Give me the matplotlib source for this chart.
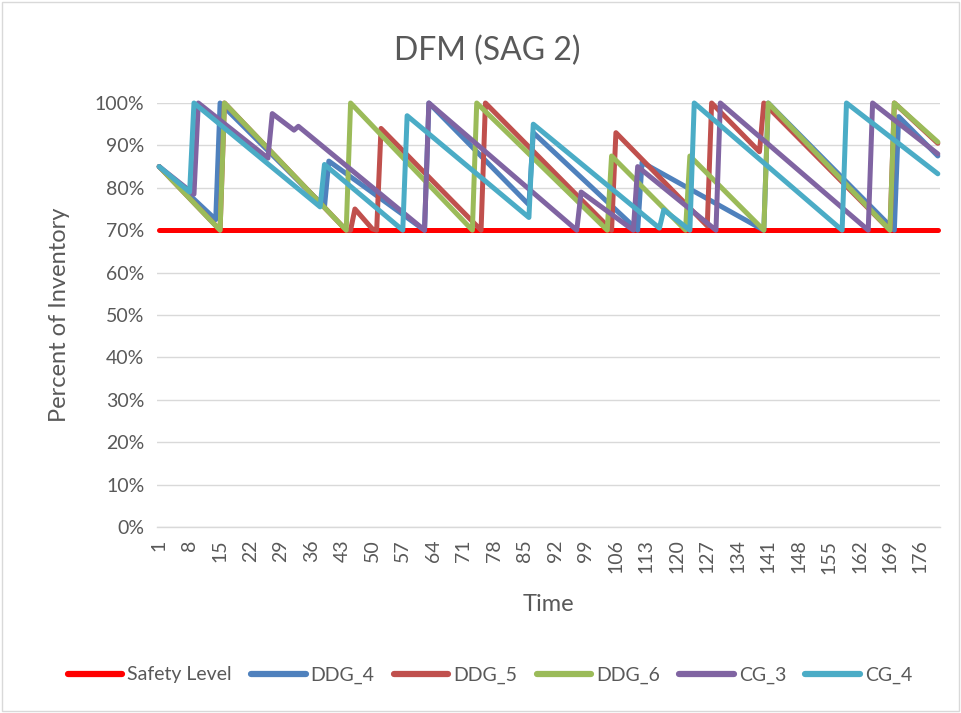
import matplotlib
matplotlib.use('Agg')
import matplotlib.pyplot as plt
from matplotlib.patches import Rectangle
from matplotlib.ticker import FixedLocator

# 데이터 (꺾은선의 꼭짓점: 시간, 재고 비율 %)
time_axis = list(range(1, 181))
tick_times = list(range(1, 177, 7))

safety_t = [1, 180]
safety_v = [70, 70]

ddg4_t = [1, 14, 15, 39, 40, 62, 63, 86, 87, 111, 112, 140, 141, 170, 171, 180]
ddg4_v = [85, 72.5, 100, 75.5, 86.3, 70, 100, 76, 93, 70, 86, 70, 100, 70, 96.8, 87.5]

ddg5_t = [1, 15, 16, 44, 45, 46, 50, 51, 52, 75, 76, 105, 106, 127, 128, 139, 140, 169, 170, 180]
ddg5_v = [85, 70, 100, 70, 70, 75, 70.3, 70, 94, 70, 100, 70, 93, 71, 100, 88.5, 100, 70, 100, 90.5]

ddg6_t = [1, 15, 16, 44, 45, 73, 74, 104, 105, 122, 123, 140, 141, 169, 170, 180]
ddg6_v = [85, 70, 100, 70, 100, 70, 100, 70, 87.5, 70, 87.5, 70, 100, 70, 100, 90.8]

cg3_t = [1, 9, 10, 26, 27, 32, 33, 62, 63, 97, 98, 110, 111, 129, 130, 164, 165, 180]
cg3_v = [85, 78.5, 100, 87, 97.5, 93.6, 94.5, 70, 100, 70, 79, 70, 85, 70, 100, 70, 100, 88]

cg4_t = [1, 8, 9, 38, 39, 57, 58, 86, 87, 116, 117, 123, 124, 158, 159, 180]
cg4_v = [85, 79, 100, 75.5, 85.5, 70, 97, 73, 95, 70.5, 74.8, 70, 100, 70, 100, 83.3]

series = [
    ('Safety Level', safety_t, safety_v, '#FF0000'),
    ('DDG_4', ddg4_t, ddg4_v, '#4F81BD'),
    ('DDG_5', ddg5_t, ddg5_v, '#C0504D'),
    ('DDG_6', ddg6_t, ddg6_v, '#9BBB59'),
    ('CG_3', cg3_t, cg3_v, '#8064A2'),
    ('CG_4', cg4_t, cg4_v, '#4BACC6'),
]

plt.rcParams['font.family'] = ['Lato', 'DejaVu Sans']
text_color = '#595959'
grid_color = '#D9D9D9'

fig = plt.figure(figsize=(9.61, 7.13), dpi=100)
ax = fig.add_axes([157 / 961, 1 - 527 / 713, 783 / 961, 424 / 713])

for name, t, v, color in series:
    ax.plot(t, v, color=color, lw=3.6, label=name,
            solid_joinstyle='round', solid_capstyle='round', clip_on=False)

# 항목 축: 눈금 사이에 항목이 놓이도록 반 칸씩 여유
ax.set_xlim(time_axis[0] - 0.5, time_axis[-1] + 0.5)
ax.set_ylim(0, 100)
ax.yaxis.set_major_locator(FixedLocator(range(0, 101, 10)))
ax.set_yticklabels([f'{p}%' for p in range(0, 101, 10)])
ax.set_xticks(tick_times)
ax.set_xticklabels([str(t) for t in tick_times], rotation=90)
ax.tick_params(axis='both', length=0, labelsize=14, colors=text_color)
ax.tick_params(axis='y', pad=9)
ax.tick_params(axis='x', pad=9)

ax.grid(axis='y', color=grid_color, lw=1.0)
ax.set_axisbelow(True)
for side in ['top', 'right', 'left']:
    ax.spines[side].set_visible(False)
ax.spines['bottom'].set_color(grid_color)
ax.spines['bottom'].set_linewidth(1.0)

ax.set_xlabel('Time', fontsize=17, color=text_color)
ax.xaxis.label.set_va('center')
ax.xaxis.set_label_coords(0.5, -0.182)
ax.set_ylabel('Percent of Inventory', fontsize=17, color=text_color)
ax.yaxis.label.set_va('center')
ax.yaxis.set_label_coords(-0.124, 0.5)

fig.text(487 / 961, 1 - 51 / 713, 'DFM (SAG 2)', fontsize=23, color=text_color,
         ha='center', va='center')

leg = fig.legend(loc='center', bbox_to_anchor=(490 / 961, 1 - 675 / 713), ncol=6,
                 frameon=False, fontsize=14, handlelength=2.8, handletextpad=0.25,
                 columnspacing=1.0, labelcolor=text_color)
for line in leg.get_lines():
    line.set_linewidth(4.5)
    line.set_solid_capstyle('round')

fig.patches.append(Rectangle((2 / 961, 2 / 713), 957 / 961, 709 / 713,
                             transform=fig.transFigure, fill=False,
                             edgecolor=grid_color, lw=1.0))

fig.savefig('out.png', dpi=100)
